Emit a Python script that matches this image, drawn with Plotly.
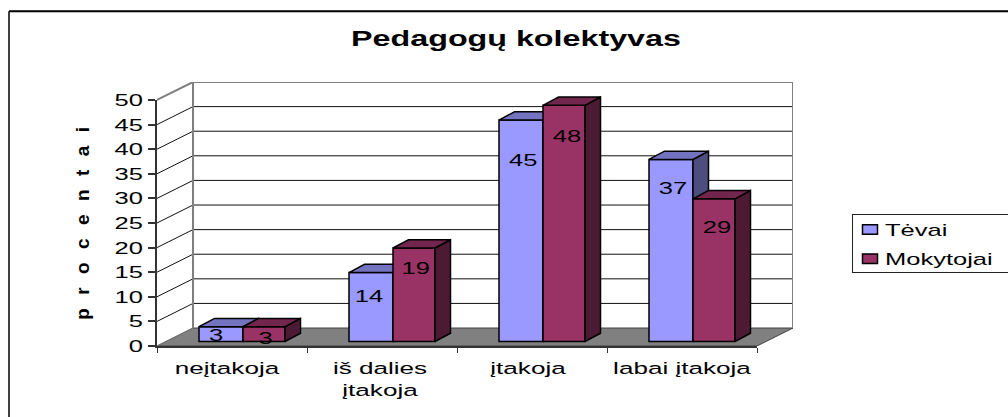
import plotly.graph_objects as go

# ---- data ----
categories = ["neįtakoja", "iš dalies<br>įtakoja", "įtakoja", "labai įtakoja"]
tevai = [3, 14, 45, 37]
mokytojai = [3, 19, 48, 29]
y_ticks = [0, 5, 10, 15, 20, 25, 30, 35, 40, 45, 50]
title_text = "Pedagogų kolektyvas"
y_title = "p r o c e n t a i"

# ---- geometry (pixels of the 1008x417 page) ----
W, H = 1008, 417
L, R, T, B = 157, 793, 82, 346.5
FRONT_W = 600
FRONT_H = 246.5
PX_X = FRONT_W / 4
PX_Y = FRONT_H / 50
xu = lambda px: px / PX_X
yu = lambda px: px / PX_Y
DX, DY = xu(36), yu(18)                 # wall depth
X_MAX, Y_MAX = (R - L) / PX_X, (B - T) / PX_Y
BASE = yu(4.5)                          # bars stand on the floor, off the front edge
BAR_DX, BAR_DY = xu(15.5), yu(8.3)      # bar depth
BLUE_OFF, BLUE_W = xu(64), xu(44)       # centre offset from category start
RED_OFF, RED_W = xu(107), xu(42)

BLUE = ("#9999FF", "#7373C0", "#4D4D80")
RED = ("#993366", "#73264D", "#4D1A33")
FONT = "Liberation Sans"
INK = "#000000"
WALL = "#808080"

LABEL_DROP = {"b": [10, 25, 42, 30], "r": [13, 22, 32, 30]}
LABEL_SHIFT = {"b": [-5, -2, 2.3, 2], "r": [1.7, 1.7, 3, 3]}
CAT_LABEL_SHIFT = [-5, -2, -4, 0]

fig = go.Figure()


def poly(xs, ys, fill, ax, line=INK, width=1.5):
    fig.add_trace(go.Scatter(x=xs + xs[:1], y=ys + ys[:1], mode="lines", fill="toself",
                             fillcolor=fill, line=dict(color=line, width=width),
                             xaxis="x" + ax, yaxis="y" + ax, showlegend=False, hoverinfo="skip"))


def seg(xs, ys, color, width, ax="2"):
    fig.add_trace(go.Scatter(x=xs, y=ys, mode="lines", line=dict(color=color, width=width),
                             xaxis="x" + ax, yaxis="y" + ax, showlegend=False, hoverinfo="skip"))


# axes-only trace so the visible front axes exist
fig.add_trace(go.Scatter(x=[], y=[], showlegend=False, hoverinfo="skip"))

# floor
poly([0, 4, 4 + DX, DX], [0, 0, DY, DY], WALL, "2", line="#404040", width=1)
# back wall grid and left wall lines
for v in y_ticks[1:-1]:
    seg([DX, 4 + DX], [v + DY, v + DY], "#111111", 1)
for v in y_ticks[1:]:
    seg([0, DX], [v, v + DY], WALL if v == 50 else "#111111", 2 if v == 50 else 1)
seg([0, DX], [0, DY], WALL, 1)
# wall frame
seg([DX, DX, 4 + DX, 4 + DX], [DY, 50 + DY, 50 + DY, DY], WALL, 2)


def series(name, values, colors, off, bw, ax, key):
    xc = [i + off for i in range(len(values))]
    fig.add_trace(go.Bar(name=name, x=xc, y=values, base=[BASE] * len(values), width=bw,
                         marker=dict(color=colors[0], line=dict(color=INK, width=1.5)),
                         xaxis="x" + ax, yaxis="y" + ax, hoverinfo="skip",
                         legendgroup=name, showlegend=True))
    for c, v in zip(xc, values):
        l, r, t = c - bw / 2, c + bw / 2, BASE + v
        poly([r, r + BAR_DX, r + BAR_DX, r], [BASE, BASE + BAR_DY, t + BAR_DY, t], colors[2], ax)
        poly([l, l + BAR_DX, r + BAR_DX, r], [t, t + BAR_DY, t + BAR_DY, t], colors[1], ax)


series("Tėvai", tevai, BLUE, BLUE_OFF, BLUE_W, "3", "b")
series("Mokytojai", mokytojai, RED, RED_OFF, RED_W, "4", "r")

# value labels on top of everything
for values, off, key in ((tevai, BLUE_OFF, "b"), (mokytojai, RED_OFF, "r")):
    fig.add_trace(go.Scatter(
        x=[i + off + xu(s) for i, s in enumerate(LABEL_SHIFT[key])],
        y=[BASE + v - yu(d) for v, d in zip(values, LABEL_DROP[key])],
        text=[str(v) for v in values], mode="text", textposition="middle center",
        textfont=dict(family=FONT, size=17, color=INK), cliponaxis=False,
        xaxis="x4", yaxis="y4", showlegend=False, hoverinfo="skip"))

hidden = dict(visible=False, fixedrange=True)
fig.update_layout(
    width=W, height=H,
    margin=dict(l=L, r=W - R, t=T, b=H - B, autoexpand=False),
    paper_bgcolor="white", plot_bgcolor="rgba(0,0,0,0)",
    font=dict(family=FONT, size=17, color=INK),
    hovermode=False, barmode="overlay",
    title=dict(text=title_text, font=dict(family=FONT, size=21.5, color=INK, weight="bold"),
               x=516 / W, xref="container", xanchor="center",
               y=1 - 38 / H, yref="container", yanchor="middle"),
    xaxis=dict(domain=[0, FRONT_W / (R - L)], range=[0, 4], tickmode="array",
               tickvals=[i + 0.5 + xu(s) for i, s in enumerate(CAT_LABEL_SHIFT)],
               ticktext=categories, ticks="", ticklen=0,
               showgrid=False, zeroline=False, showline=True, linecolor="#333333", linewidth=1.5,
               tickangle=0, ticklabelstandoff=5, tickfont=dict(size=17.4), fixedrange=True,
               minor=dict(tickmode="array", tickvals=[0, 1, 2, 3, 4], ticks="outside",
                          ticklen=5, tickcolor="#333333", tickwidth=1, showgrid=False)),
    yaxis=dict(domain=[0, FRONT_H / (B - T)], range=[0, 50], tickmode="array", tickvals=y_ticks,
               ticks="outside", ticklen=7, tickcolor="#333333", tickwidth=1.5, showgrid=False,
               zeroline=False, showline=True, linecolor="#333333", linewidth=1.5,
               fixedrange=True, ticklabelstandoff=2),
    xaxis2=dict(domain=[0, 1], range=[0, X_MAX], anchor="y2", **hidden),
    yaxis2=dict(domain=[0, 1], range=[0, Y_MAX], anchor="x2", **hidden),
    xaxis3=dict(domain=[0, 1], range=[0, X_MAX], anchor="y3", overlaying="x2", **hidden),
    yaxis3=dict(domain=[0, 1], range=[0, Y_MAX], anchor="x3", overlaying="y2", **hidden),
    xaxis4=dict(domain=[0, 1], range=[0, X_MAX], anchor="y4", overlaying="x2", **hidden),
    yaxis4=dict(domain=[0, 1], range=[0, Y_MAX], anchor="x4", overlaying="y2", **hidden),
    legend=dict(xref="container", yref="container", x=852 / W, y=1 - 214 / H,
                xanchor="left", yanchor="top", bordercolor="#222222", borderwidth=1,
                bgcolor="white", font=dict(family=FONT, size=17, color=INK),
                tracegroupgap=4, itemclick=False, itemdoubleclick=False,
                entrywidth=125, entrywidthmode="pixels"),
    annotations=[dict(text=y_title, xref="paper", yref="paper",
                      x=(82 - L) / (R - L), y=(B - 223.5) / (B - T), showarrow=False,
                      textangle=-90, font=dict(family=FONT, size=19, color=INK, weight="bold"),
                      xanchor="center", yanchor="middle")],
    shapes=[
        dict(type="line", xref="paper", yref="paper", x0=(9 - L) / (R - L), x1=(9 - L) / (R - L),
             y0=(B - 11) / (B - T), y1=(B - H - 5) / (B - T), line=dict(color="#404040", width=2)),
        dict(type="line", xref="paper", yref="paper", x0=(9 - L) / (R - L), x1=(W + 5 - L) / (R - L),
             y0=(B - 11) / (B - T), y1=(B - 11) / (B - T), line=dict(color="#000000", width=2)),
    ],
)

post = """
document.body.style.margin='0';
document.documentElement.style.overflow='hidden';
function stretch(){
  var S=1.5;
  document.querySelectorAll('.main-svg text').forEach(function(t){
    if(t.dataset.st) return; t.dataset.st='1';
    if(t.classList.contains('annotation-text')){
      t.setAttribute('textLength',193); t.setAttribute('lengthAdjust','spacing'); return;
    }
    var lines=t.querySelectorAll('tspan.line');
    var targets=lines.length?Array.from(lines):[t];
    targets.forEach(function(e){
      var n=e.getComputedTextLength();
      e.setAttribute('textLength',n*S); e.setAttribute('lengthAdjust','spacingAndGlyphs');
    });
    if(t.classList.contains('legendtext')) t.setAttribute('x',32);
  });
  // legend box: runs off the right edge of the page, tighter height, wider swatches
  document.querySelectorAll('.legend').forEach(function(g){
    var bg=g.querySelector('rect.bg');
    if(bg){bg.setAttribute('width',175); bg.setAttribute('height',58);}
    var sb=g.querySelector('.scrollbox');
    if(sb){sb.removeAttribute('clip-path'); sb.style.clipPath='none';
           sb.setAttribute('transform','translate(0,-3)');}
    g.querySelectorAll('.legendpoints path').forEach(function(p){
      p.setAttribute('d','M7.5,4.75H-7.5V-4.75H7.5Z');
      p.setAttribute('transform','translate(17,0)');
    });
  });
}
stretch(); setTimeout(stretch,50); setTimeout(stretch,300);
"""
fig.write_html("out.html", post_script=post, config={"displayModeBar": False})
